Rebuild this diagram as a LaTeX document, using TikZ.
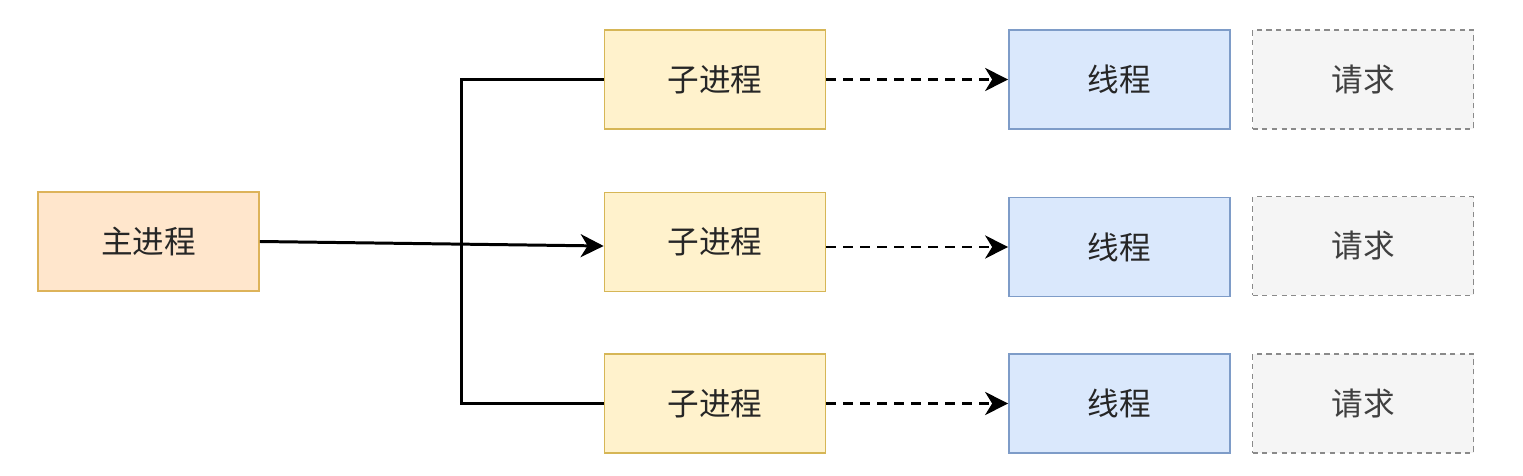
\documentclass[tikz,border=0pt]{standalone}
\usepackage{fontspec}
\setmainfont{Noto Sans CJK SC}
\usepackage{tikz}
\usetikzlibrary{arrows.meta,calc}

\definecolor{mainfill}{HTML}{FFE6CC}
\definecolor{maindraw}{HTML}{DDB35A}
\definecolor{subfill}{HTML}{FFF2CC}
\definecolor{subdraw}{HTML}{D6B656}
\definecolor{thrfill}{HTML}{DAE8FC}
\definecolor{thrdraw}{HTML}{7E9CC8}
\definecolor{reqfill}{HTML}{F5F5F5}
\definecolor{reqdraw}{HTML}{8A8A8A}

\begin{document}
\begin{tikzpicture}[x=0.02cm,y=-0.02cm,line width=1.7pt,
    box/.style={rectangle,minimum width=4.42cm,minimum height=1.98cm,line width=1pt,
      font=\fontsize{18}{20}\selectfont,text=black!85},
    mainbox/.style={box,fill=mainfill,draw=maindraw},
    subbox/.style={box,fill=subfill,draw=subdraw},
    thrbox/.style={box,fill=thrfill,draw=thrdraw},
    reqbox/.style={box,fill=reqfill,draw=reqdraw,dash pattern=on 3pt off 2.5pt,text=black!75},
    link/.style={-{Stealth[length=0.46cm,width=0.46cm,inset=0.14cm]}},
    dlink/.style={link,dash pattern=on 0.2cm off 0.14cm}]

        \useasboundingbox (0,0) rectangle (1523,476);

        % boxes
        \node[mainbox] (main) at (148.5,241.5) {主进程};

        \node[subbox] (sub1) at (715,79.5) {子进程};
        \node[subbox] (sub2) at (715,242) {子进程};
        \node[subbox] (sub3) at (715,403.5) {子进程};

        \node[thrbox] (thr1) at (1119.5,79.5) {线程};
        \node[thrbox] (thr2) at (1119.5,247) {线程};
        \node[thrbox] (thr3) at (1119.5,403.5) {线程};

        \node[reqbox] (req1) at (1363,79.5) {请求};
        \node[reqbox] (req2) at (1363,246) {请求};
        \node[reqbox] (req3) at (1363,403.5) {请求};

        % connectors
        \coordinate (bus) at (461,242);
        \draw (sub1.west) -- (sub1.west -| bus) -- (sub3.west -| bus) -- (sub3.west);
        \draw[link] (main.east) -- ($(sub2.west)+(0,4)$);

        \draw[dlink] (sub1.east) -- (thr1.west);
        \draw[dlink] (thr2.west -| sub2.east) -- (thr2.west);
        \draw[dlink] (sub3.east) -- (thr3.west);

      \end{tikzpicture}
\end{document}
